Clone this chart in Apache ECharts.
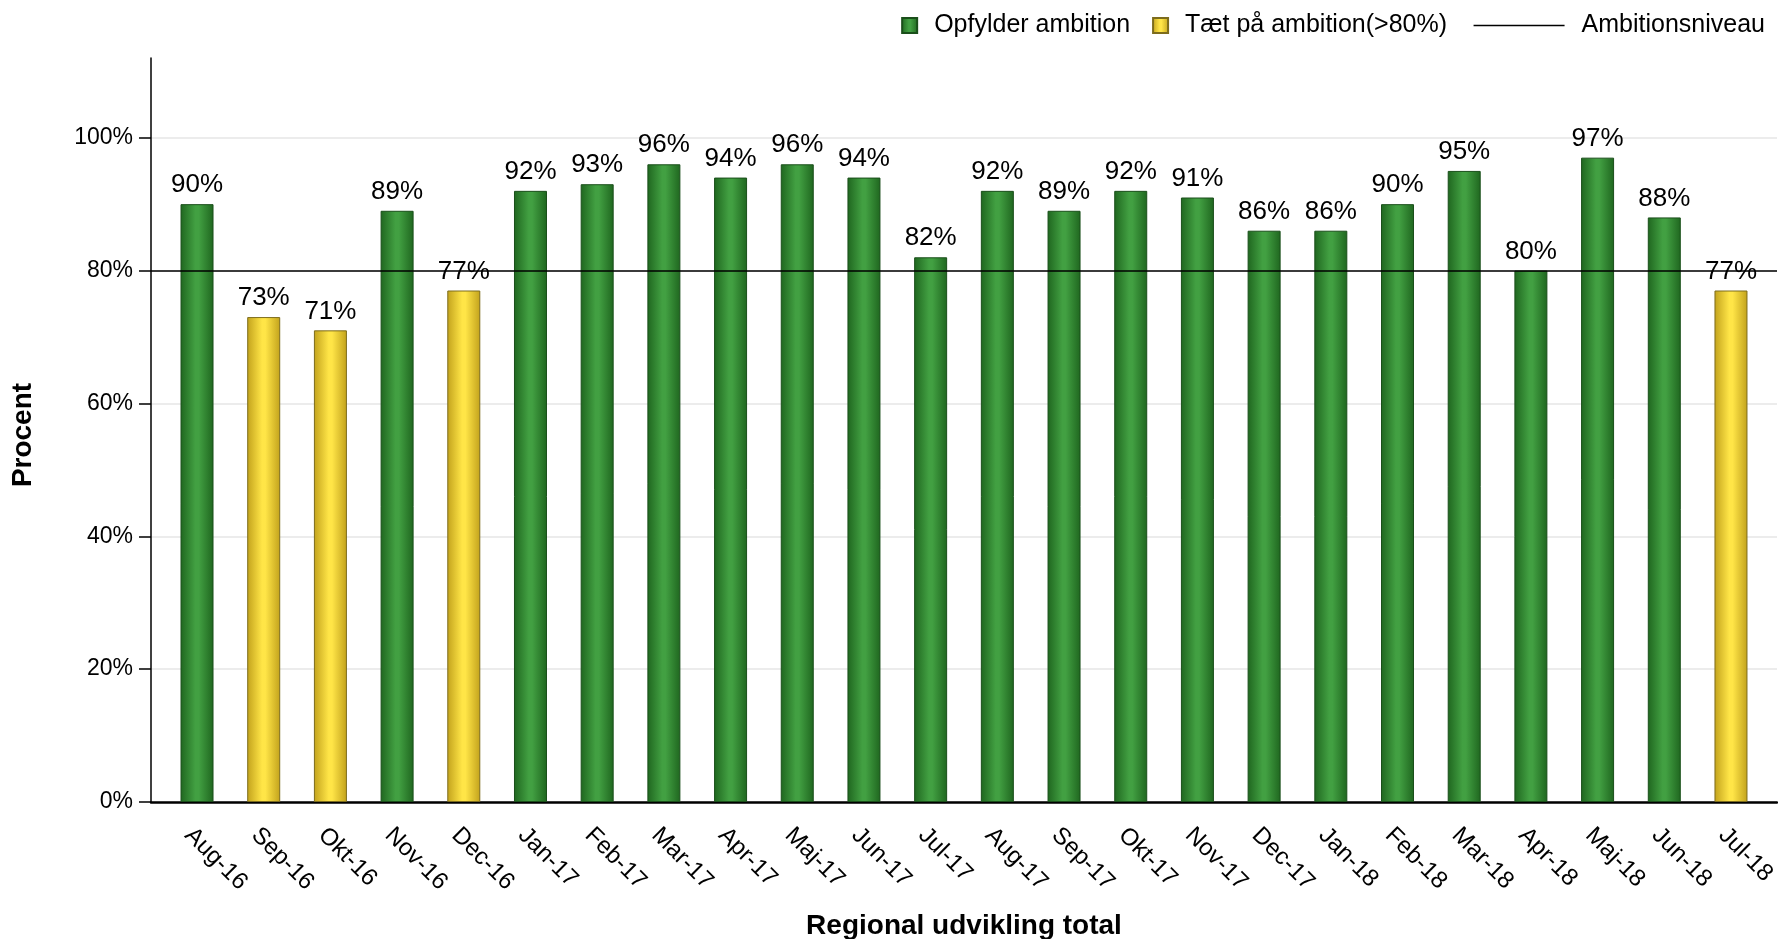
<!DOCTYPE html>
<html>
<head>
<meta charset="utf-8">
<script src="https://cdn.jsdelivr.net/npm/echarts@6/dist/echarts.min.js"></script>
<style>
html,body{margin:0;padding:0;background:#fff;}
#chart{width:1778px;height:939px;}
</style>
</head>
<body>
<div id="chart"></div>
<script>
// ---- data ----
const categories = ['Aug-16','Sep-16','Okt-16','Nov-16','Dec-16','Jan-17','Feb-17','Mar-17','Apr-17','Maj-17','Jun-17','Jul-17',
                    'Aug-17','Sep-17','Okt-17','Nov-17','Dec-17','Jan-18','Feb-18','Mar-18','Apr-18','Maj-18','Jun-18','Jul-18'];
const opfylder = [90,null,null,89,null,92,93,96,94,96,94,82,92,89,92,91,86,86,90,95,80,97,88,null];
const taet     = [null,73,71,null,77,null,null,null,null,null,null,null,null,null,null,null,null,null,null,null,null,null,null,77];
const ambition = 80;
const yTicks = [0,20,40,60,80,100];
const seriesNames = ['Opfylder ambition','Tæt på ambition(>80%)','Ambitionsniveau'];

const font = 'Liberation Sans, Arial, sans-serif';
const catIdx = categories.map((c,i)=>i);
function pts(arr){ return arr.map((v,i)=>v==null?null:[i,v]).filter(p=>p); }
function grad(edge, mid){
  return new echarts.graphic.LinearGradient(0,0,1,0,[
    {offset:0,color:edge},{offset:0.45,color:mid},{offset:0.55,color:mid},{offset:1,color:edge}]);
}
const labelCfg = {show:true, position:'top', distance:6, color:'#000', fontSize:26, fontFamily:font,
                  formatter: p => p.value[1] + '%'};

const chart = echarts.init(document.getElementById('chart'), null, {renderer:'canvas'});
chart.setOption({
  animation:false,
  backgroundColor:'#fff',
  textStyle:{fontFamily:font},
  grid:{left:151, right:1, top:58, bottom:137, containLabel:false, outerBoundsMode:'none'},
  legend:[
    {data:[seriesNames[0], seriesNames[1]], right:326, top:8, icon:'rect', itemWidth:15, itemHeight:15, itemGap:22,
     textStyle:{fontSize:25, color:'#000', fontFamily:font, padding:[0,0,0,12]}},
    {data:[{name:seriesNames[2], icon:'rect'}], right:8, top:8, itemWidth:91, itemHeight:1.5,
     itemStyle:{color:'#000', borderWidth:0},
     textStyle:{fontSize:25, color:'#000', fontFamily:font, padding:[0,0,0,12]}}
  ],
  xAxis:{
    type:'value', min:-0.69, max:23.69,
    name:'Regional udvikling total', nameLocation:'middle', nameGap:110,
    nameTextStyle:{fontSize:28, fontWeight:'bold', color:'#000', fontFamily:font},
    axisLine:{show:true, onZero:false, lineStyle:{color:'#000', width:2.5}},
    axisTick:{show:false},
    splitLine:{show:false},
    axisLabel:{customValues:catIdx, rotate:-45, margin:21, verticalAlign:'top', fontSize:24, color:'#000', fontFamily:font,
               formatter: v => categories[Math.round(v)]}
  },
  yAxis:{
    type:'value', min:0, max:112,
    name:'Procent', nameLocation:'middle', nameGap:114,
    nameTextStyle:{fontSize:28, fontWeight:'bold', color:'#000', fontFamily:font, padding:[0,10,0,0]},
    axisLine:{show:true, onZero:false, lineStyle:{color:'#000', width:1.5}},
    axisTick:{show:true, customValues:yTicks, length:12, lineStyle:{color:'#000', width:1.5}},
    axisLabel:{customValues:yTicks, margin:18, fontSize:23, color:'#000', fontFamily:font, formatter:'{value}%'},
    splitLine:{show:true, lineStyle:{color:'#e6e6e6', width:1.5}}
  },
  series:[
    {name:seriesNames[0], type:'bar', barWidth:33, barGap:'-100%', data:pts(opfylder),
     itemStyle:{color:grad('#1f661f','#42a042'), borderColor:'#1a4f1a', borderWidth:1}, label:labelCfg},
    {name:seriesNames[1], type:'bar', barWidth:33, barGap:'-100%', data:pts(taet),
     itemStyle:{color:grad('#c2a21c','#ffe547'), borderColor:'#7d6c1c', borderWidth:1}, label:labelCfg},
    {name:seriesNames[2], type:'line', data:[], symbol:'none', lineStyle:{color:'#000', width:1.5},
     itemStyle:{color:'#000'}, z:5,
     markLine:{silent:true, symbol:'none', label:{show:false}, animation:false,
               lineStyle:{color:'#000', width:1.5, type:'solid'}, data:[{yAxis:ambition}]}}
  ]
});
</script>
</body>
</html>
